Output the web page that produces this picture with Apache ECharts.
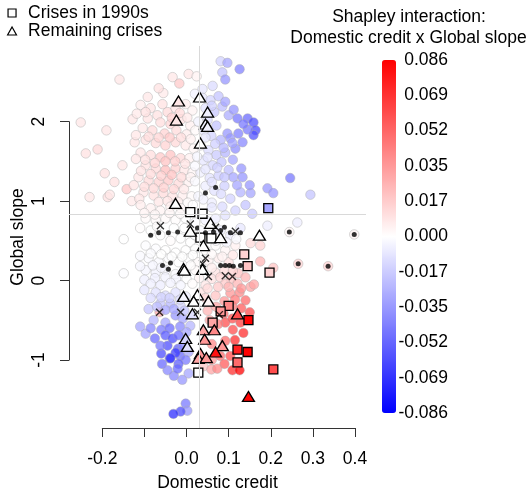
<!DOCTYPE html>
<html><head><meta charset="utf-8">
<script src="https://cdn.jsdelivr.net/npm/echarts@6/dist/echarts.min.js"></script>
<style>html,body{margin:0;padding:0;background:#fff}#c{width:530px;height:489px}</style>
</head><body><div id="c"></div>
<script>
// [Domestic credit, Global slope, Shapley interaction]
const circles = [
[-0.159,2.53,0.008],[-0.033,2.56,0.008],[-0.017,2.48,0.018],[0.005,2.60,0.008],[0.024,2.57,0.004],
[0.081,2.76,-0.015],[0.097,2.74,-0.03],[0.126,2.66,-0.042],[0.085,2.62,-0.02],[0.092,2.53,-0.035],
[0.062,2.45,-0.012],[0.038,2.41,-0.008],[-0.055,2.36,0.007],[-0.092,2.31,0.008],[-0.066,2.42,0.01],
[-0.128,2.03,0.008],[-0.19,1.89,0.008],[-0.251,1.99,0.008],
[-0.109,2.21,0.006],[-0.085,2.17,0.009],[-0.069,2.08,0.01],[-0.045,2.12,0.012],[-0.026,2.17,0.009],[-0.002,2.22,0.006],[0.014,2.14,0.004],
[-0.092,2.04,0.009],[-0.062,1.99,0.011],[-0.038,1.97,0.014],[-0.012,2.03,0.01],[0.009,1.95,0.005],
[-0.104,1.92,0.007],[-0.081,1.89,0.012],[-0.052,1.85,0.015],[-0.024,1.89,0.012],[0,1.84,0.006],[0.021,1.89,0.002],
[0.038,2.30,-0.008],[0.057,2.27,-0.014],[0.076,2.32,-0.02],[0.045,2.17,-0.01],[0.066,2.12,-0.018],[0.085,2.19,-0.022],[0.1,2.08,-0.028],
[0.121,2.04,-0.045],[0.145,2.04,-0.05],[0.159,1.99,-0.058],[0.164,1.89,-0.06],[0.159,1.83,-0.058],[0.145,1.90,-0.045],[0.123,1.85,-0.042],
[0.097,1.85,-0.035],[0.104,1.79,-0.035],[0.133,1.74,-0.04],[0.116,1.66,-0.038],[0.109,1.73,-0.03],
[0.05,2.02,-0.012],[0.071,1.95,-0.02],[0.04,1.89,-0.008],[0.059,1.82,-0.015],[0.081,1.77,-0.025],
[-0.239,1.60,0.01],[-0.211,1.65,0.012],[-0.194,1.35,0.01],[-0.23,1.05,0.008],[-0.187,1.05,0.01],[-0.182,1.08,0.008],[-0.142,1.15,0.018],[-0.123,1.74,0.008],[-0.152,1.45,0.008],[-0.171,1.24,0.01],
[-0.097,1.77,0.009],[-0.073,1.73,0.012],[-0.05,1.70,0.015],[-0.026,1.74,0.013],[-0.002,1.70,0.007],[0.017,1.66,0.003],
[-0.109,1.61,0.008],[-0.085,1.58,0.011],[-0.062,1.55,0.018],[-0.038,1.58,0.02],[-0.014,1.54,0.012],[0.007,1.54,0.005],
[-0.097,1.45,0.01],[-0.073,1.41,0.012],[-0.05,1.39,0.022],[-0.026,1.41,0.015],[-0.005,1.39,0.008],[0.014,1.36,0.003],
[-0.114,1.30,0.008],[-0.09,1.26,0.012],[-0.066,1.24,0.015],[-0.043,1.26,0.018],[-0.019,1.22,0.012],[0.005,1.24,0.005],
[-0.102,1.11,0.008],[-0.078,1.07,0.01],[-0.055,1.10,0.012],[-0.033,1.06,0.01],[-0.009,1.07,0.006],[0.012,1.06,0.002],
[0.033,1.70,-0.006],[0.052,1.64,-0.012],[0.071,1.58,-0.018],[0.092,1.61,-0.025],[0.04,1.51,-0.008],[0.062,1.45,-0.014],[0.083,1.49,-0.02],[0.13,1.41,-0.035],
[0.033,1.36,-0.005],[0.055,1.29,-0.01],[0.076,1.32,-0.016],[0.1,1.39,-0.022],[0.111,1.30,-0.03],[0.133,1.30,-0.035],[0.246,1.29,-0.045],
[0.045,1.19,-0.006],[0.066,1.13,-0.01],[0.09,1.19,-0.016],[0.128,1.11,-0.025],[0.152,1.10,-0.03],[0.192,1.16,-0.035],[0.206,1.10,-0.035],[0.294,1.08,-0.02],[0.028,1.06,-0.003],[0.104,1.03,-0.015],
[-0.118,2.10,0.007],[-0.097,2.12,0.01],[-0.057,2.22,0.01],[-0.035,2.05,0.016],[-0.016,2.11,0.012],[0.002,2.05,0.007],
[-0.12,1.83,0.008],[-0.09,1.81,0.011],[-0.066,1.80,0.014],[-0.04,1.80,0.018],[-0.013,1.80,0.011],[0.01,1.78,0.005],
[-0.12,1.53,0.008],[-0.098,1.52,0.01],[-0.075,1.48,0.014],[-0.05,1.50,0.02],[-0.027,1.50,0.016],[-0.003,1.47,0.009],
[-0.108,1.38,0.009],[-0.085,1.34,0.012],[-0.06,1.32,0.016],[-0.035,1.33,0.02],[-0.012,1.30,0.012],[0.01,1.30,0.004],
[-0.125,1.20,0.009],[-0.1,1.18,0.011],[-0.078,1.16,0.013],[-0.054,1.17,0.016],[-0.03,1.15,0.014],[-0.006,1.15,0.007],
[-0.13,1.00,0.007],[-0.112,1.03,0.008],[-0.066,0.99,0.008],[-0.045,1.00,0.009],[-0.02,0.99,0.006],[0.003,0.98,0.002],
[0.02,2.35,-0.004],[0.06,2.20,-0.016],[0.092,2.25,-0.03],[0.112,2.15,-0.035],[0.135,1.97,-0.045],[0.028,2.0,-0.004],[0.045,1.80,-0.008],[0.068,1.72,-0.016],[0.088,1.67,-0.024],[0.025,1.56,-0.003],[0.05,1.55,-0.01],[0.073,1.42,-0.016],[0.02,1.44,-0.002],[0.045,1.40,-0.008],[0.09,1.30,-0.02],[0.02,1.25,-0.002],[0.06,1.24,-0.01],[0.082,1.09,-0.012],[0.04,1.02,-0.004],[0.06,0.98,-0.006],[0.12,1.20,-0.03],[0.15,1.2,-0.035],[0.11,1.52,-0.03],
[-0.149,0.52,0.0],
[-0.109,0.95,0.006],[-0.085,0.91,0.005],[-0.062,0.88,0.004],[-0.038,0.93,0.005],[-0.014,0.91,0.003],
[-0.097,0.78,0.002],[-0.073,0.76,0.002],[-0.05,0.78,0.002],[-0.026,0.76,0.001],[-0.002,0.78,0.0],[0.021,0.73,-0.001],
[0.045,0.76,-0.004],[0.069,0.78,-0.006],[0.092,0.82,-0.01],[0.14,0.95,-0.02],[0.156,0.84,-0.018],[0.116,0.88,-0.015],[0.192,0.69,-0.006],[0.263,0.73,-0.006],
[-0.085,0.63,0.0],[-0.062,0.57,0.0],[-0.038,0.50,0.001],[-0.014,0.53,0.0],[0.009,0.48,0.0],
[0.033,0.63,-0.002],[0.057,0.57,-0.003],[0.081,0.63,-0.005],[0.104,0.57,-0.006],[0.128,0.66,-0.008],
[-0.097,0.44,-0.001],[-0.073,0.40,-0.001],[-0.05,0.38,0.0],[-0.026,0.35,0.0],[-0.002,0.38,0.0],[0.021,0.40,0.0],
[0.045,0.38,0.001],[0.069,0.44,0.001],[0.092,0.38,0.003],[0.116,0.44,0.005],[0.152,0.47,0.012],[0.175,0.44,0.015],
[0.244,0.61,0.003],[0.398,0.58,0.004],
[-0.1,0.85,0.004],[-0.075,0.83,0.003],[-0.04,0.85,0.003],[-0.015,0.84,0.002],[0.015,0.95,0.0],[0.06,0.92,-0.008],[0.085,0.93,-0.012],
[-0.11,0.66,0.001],[-0.07,0.68,0.001],[-0.03,0.66,0.0],[-0.005,0.66,0.0],[0.02,0.57,0.0],[0.07,0.50,-0.002],[0.095,0.48,-0.003],[0.118,0.52,-0.002],
[-0.149,0.09,-0.001],
[-0.09,0.28,-0.002],[-0.066,0.23,-0.002],[-0.043,0.28,-0.001],[-0.019,0.23,0.0],[0.005,0.28,0.0],[0.028,0.23,0.002],
[0.052,0.25,0.004],[0.076,0.28,0.006],[0.1,0.23,0.01],[0.175,0.24,0.025],[0.206,0.16,0.02],[0.265,0.21,0.015],[0.336,0.18,0.015],
[-0.097,0.13,-0.003],[-0.073,0.10,-0.004],[-0.05,0.13,-0.003],[-0.026,0.08,-0.002],[-0.002,0.10,0.0],[0.021,0.13,0.002],[0.069,0.10,0.01],[0.123,0.09,0.02],
[-0.11,0.31,-0.002],[-0.085,0.34,-0.001],[-0.06,0.33,0.0],[-0.035,0.30,0.0],[-0.01,0.30,0.0],[0.015,0.32,0.0],[0.06,0.33,0.002],[0.085,0.30,0.004],[0.11,0.32,0.008],
[-0.11,0.18,-0.003],[-0.08,0.19,-0.003],[-0.06,0.16,-0.003],[0.01,0.19,0.001],[0.06,0.16,0.006],[0.09,0.12,0.012],[0.11,0.12,0.015],
[-0.1,0.01,-0.005],[-0.075,0.03,-0.005],[-0.05,0.04,-0.004],[-0.025,0.02,-0.003],[0.0,0.02,0.0],[0.03,0.03,0.004],[0.06,0.02,0.01],[0.08,0.04,0.014],[0.105,0.02,0.02],[0.14,0.04,0.025],
[-0.085,-0.04,-0.005],[-0.062,-0.06,-0.006],[-0.038,-0.03,-0.004],[-0.014,-0.06,-0.003],[0.014,-0.04,0.001],[0.045,-0.06,0.008],[0.092,-0.04,0.018],[0.121,-0.04,0.025],[0.152,-0.08,0.03],
[-0.073,-0.15,-0.01],[-0.05,-0.19,-0.012],[-0.026,-0.15,-0.01],[-0.002,-0.20,-0.006],
[-0.062,-0.29,-0.02],[-0.038,-0.29,-0.025],[-0.014,-0.32,-0.015],[-0.078,-0.50,-0.025],[-0.064,-0.40,0.03],
[-0.026,-0.44,-0.035],[-0.009,-0.48,-0.03],[0.009,-0.57,-0.025],[-0.05,-0.53,-0.03],[-0.097,-0.67,-0.03],
[-0.1,-0.12,-0.008],[-0.085,-0.22,-0.012],[-0.06,-0.21,-0.015],[-0.04,-0.22,-0.016],[-0.015,-0.24,-0.012],
[-0.09,-0.36,-0.02],[-0.07,-0.33,-0.022],[-0.05,-0.37,-0.03],[-0.03,-0.36,-0.03],[-0.005,-0.38,-0.02],
[-0.11,-0.58,-0.03],[-0.085,-0.60,-0.04],[-0.06,-0.62,-0.045],[-0.04,-0.60,-0.05],[-0.015,-0.58,-0.04],[0.0,-0.65,-0.03],
[-0.075,-0.73,-0.05],[-0.045,-0.82,-0.06],[-0.02,-0.86,-0.055],[-0.06,-0.92,-0.06],[-0.04,-0.98,-0.055],[-0.015,-0.95,-0.05],[0.005,-0.90,-0.03],[-0.058,-1.05,-0.05],[-0.03,-1.20,-0.04],[-0.01,-1.25,-0.035],
[0.033,-0.15,0.01],[0.104,-0.16,0.035],[0.126,-0.15,0.04],[0.069,-0.19,0.02],[0.088,-0.42,0.05],[0.092,-0.53,0.06],
[0.109,-0.48,0.06],[0.128,-0.53,0.065],[0.109,-0.32,0.045],[0.05,-0.38,0.025],
[0.05,-0.1,0.012],[0.075,-0.08,0.018],[0.1,-0.08,0.025],[0.13,-0.10,0.035],[0.16,-0.05,0.03],
[0.045,-0.22,0.015],[0.09,-0.26,0.035],[0.115,-0.24,0.045],[0.14,-0.25,0.05],[0.07,-0.33,0.03],[0.13,-0.35,0.055],[0.15,-0.4,0.06],
[0.055,-0.5,0.03],[0.075,-0.55,0.045],[0.11,-0.62,0.06],[0.135,-0.66,0.07],[0.06,-0.8,0.04],[0.08,-0.95,0.05],[0.06,-1.0,0.035],[0.09,-1.05,0.055],[0.115,-0.75,0.07],[0.04,-1.08,0.02],
[-0.05,-0.69,-0.055],[-0.033,-0.73,-0.06],[-0.019,-0.69,-0.05],[-0.062,-0.82,-0.045],[-0.026,-0.91,-0.065],
[-0.002,-1.00,-0.045],[-0.019,-1.05,-0.055],[-0.045,-1.13,-0.04],[-0.021,-1.11,-0.05],[0.005,-1.17,-0.03],[-0.038,-0.98,-0.07],[-0.009,-0.82,-0.04],
[0.059,-1.12,0.03],[0.073,-1.11,0.04],[0.109,-1.13,0.07],[0.126,-1.13,0.085],[0.092,-0.76,0.05],[0.104,-0.95,0.06],
[-0.002,-1.55,-0.045],[0.002,-1.64,-0.035],[-0.014,-1.65,-0.06],[-0.031,-1.68,-0.07]
];
const crises1990s = [
[0.009,0.86,0.0],[0.038,0.84,0.0],[0.194,0.91,-0.03],[0.033,0.54,0.0],[0.059,0.53,0.0],
[0.137,0.33,0.015],[0.145,0.18,0.02],[0.197,0.10,0.015],[0.1,-0.32,0.04],[0.081,-0.39,0.035],
[0.062,-0.53,0.03],[0.147,-0.50,0.085],[0.121,-0.87,0.075],[0.145,-0.90,0.085],[0.121,-1.03,0.05],
[0.206,-1.12,0.06],[0.028,-1.16,0.0]
];
const remainingCrises = [
[-0.019,2.26,0.008],[0.031,2.31,0.0],[0.05,2.12,-0.005],[-0.024,2.02,0.008],[0.045,1.97,-0.005],[0.05,1.94,-0.005],[0.033,1.73,0.0],
[-0.026,0.97,0.0],[0.009,0.62,0.0],[0.057,0.72,0.0],[0.081,0.54,0.0],[0.04,0.44,0.0],[0.173,0.57,0.0],
[-0.007,0.15,0.0],[-0.005,0.13,0.0],[0.038,0.14,0.0],
[-0.007,-0.20,-0.003],[0.026,-0.18,0.0],[0.017,-0.26,0.0],[0.052,-0.26,0.003],[0.014,-0.42,-0.01],
[-0.002,-0.73,-0.015],[0.002,-0.83,-0.01],[0.04,-0.62,0.03],[0.066,-0.62,0.04],[0.043,-0.74,0.035],
[0.085,-0.82,0.035],[0.069,-0.90,0.08],[0.033,-0.92,0.035],[0.028,-0.98,0.03],[0.047,-0.97,0.035],
[0.121,-0.42,0.06],[0.147,-1.46,0.085]
];
const crosses = [
[-0.062,0.69],[0.009,0.71],[0.069,0.67],[0.116,0.62],[0.045,0.28],[0.038,0.21],
[0.052,0.05],[0.092,0.06],[0.109,0.05],[-0.064,-0.40],[-0.014,-0.40],[0.026,-0.40],[0.078,-0.43]
];
const dots = [
[0.045,1.10],[0.069,1.17],
[-0.085,0.57],[-0.066,0.60],[-0.043,0.60],[-0.021,0.61],[0.026,0.66],[0.045,0.60],[0.064,0.61],[0.081,0.63],[0.090,0.67],[0.104,0.60],[0.128,0.60],
[0.244,0.61],[0.398,0.58],
[-0.057,0.19],[-0.038,0.22],[-0.043,0.14],[0.081,0.19],[0.092,0.19],[0.102,0.19],[0.111,0.18],[0.128,0.19],
[0.265,0.21],[0.336,0.18]
];
const refX = 0.026, refY = 0.84;
const xTickLabels = ['-0.2','','0.0','0.1','0.2','0.3','0.4'];
const yTickLabels = ['-1','0','1','2'];
const cbTickLabels = ['-0.086','-0.069','-0.052','-0.035','-0.017','0.000','0.017','0.035','0.052','0.069','0.086'];

const FONT = "'Liberation Sans', Arial, Helvetica, sans-serif";
const FS = 17.5;
const crossPath = 'path://M0,1.2L1.2,0L5,3.8L8.8,0L10,1.2L6.2,5L10,8.8L8.8,10L5,6.2L1.2,10L0,8.8L3.8,5Z';
const chart = echarts.init(document.getElementById('c'), null, {renderer:'canvas'});
const hid = {show:true, axisLine:{show:false}, axisTick:{show:false}, axisLabel:{show:false}, splitLine:{show:false}};
chart.setOption({
  animation:false,
  textStyle:{fontFamily:FONT},
  grid:[
    {left:69, top:46, width:297, height:382, containLabel:false, outerBoundsMode:'none'},
    {left:102.3, top:46, width:252.7, height:382, containLabel:false, outerBoundsMode:'none'},
    {left:69, top:121.7, width:297, height:238.3, containLabel:false, outerBoundsMode:'none'},
    {left:382, top:60, width:14, height:353, containLabel:false, outerBoundsMode:'none'}
  ],
  xAxis:[
    Object.assign({gridIndex:0, type:'value', min:-0.2788, max:0.4259, name:'Domestic credit', nameLocation:'middle', nameGap:46, nameTextStyle:{fontSize:FS, color:'#000', fontFamily:FONT}}, hid),
    {gridIndex:1, type:'value', min:-0.2, max:0.4, interval:0.1, position:'bottom',
      axisLine:{lineStyle:{color:'#333', width:1}}, axisTick:{length:9, lineStyle:{color:'#333'}},
      axisLabel:{fontSize:FS, color:'#000', margin:22, fontFamily:FONT, formatter:(v,i)=>xTickLabels[i]}, splitLine:{show:false}},
    {gridIndex:2, type:'value', show:false},
    {gridIndex:3, type:'value', show:false}
  ],
  yAxis:[
    Object.assign({gridIndex:0, type:'value', min:-1.857, max:2.952, name:'Global slope', nameLocation:'middle', nameGap:42, nameRotate:90, nameTextStyle:{fontSize:FS, color:'#000', fontFamily:FONT}}, hid),
    {gridIndex:1, type:'value', show:false},
    {gridIndex:2, type:'value', min:-1, max:2, interval:1, position:'left',
      axisLine:{show:true, lineStyle:{color:'#333', width:1}}, axisTick:{show:true, length:9, lineStyle:{color:'#333'}},
      axisLabel:{fontSize:FS, color:'#000', rotate:90, margin:21, fontFamily:FONT, formatter:(v,i)=>yTickLabels[i]}, splitLine:{show:false}},
    {gridIndex:3, type:'value', min:0, max:10, interval:1, position:'right',
      axisLine:{show:false}, axisTick:{show:false}, splitLine:{show:false},
      axisLabel:{fontSize:FS, color:'#000', align:'right', margin:52, fontFamily:FONT, formatter:(v,i)=>cbTickLabels[i]}}
  ],
  visualMap:{
    type:'continuous', min:-0.086, max:0.086, dimension:2, seriesIndex:[1,2,3],
    inRange:{color:['#0000ff','#ffffff','#ff0000']},
    left:382, top:60, itemWidth:14, itemHeight:353, padding:0, calculable:false, hoverLink:false
  },
  legend:{
    orient:'vertical', left:2, top:-1, itemGap:0, itemWidth:22, itemHeight:8,
    textStyle:{fontSize:FS, color:'#000', fontFamily:FONT},
    data:[
      {name:'Crises in 1990s', icon:'path://M0,0L10,0L10,10L0,10Z', itemStyle:{color:'#fff', borderColor:'#000', borderWidth:1.2}},
      {name:'Remaining crises', icon:'path://M5,0L10,9L0,9Z', itemStyle:{color:'#fff', borderColor:'#000', borderWidth:1.2}}
    ]
  },
  graphic:[
    {type:'text', x:409, y:17, style:{text:'Shapley interaction:', textAlign:'center', textVerticalAlign:'middle', fontSize:FS, fontFamily:FONT, fill:'#000'}},
    {type:'text', x:408.5, y:38, style:{text:'Domestic credit x Global slope', textAlign:'center', textVerticalAlign:'middle', fontSize:FS, fontFamily:FONT, fill:'#000'}}
  ],
  series:[
    {type:'scatter', xAxisIndex:0, yAxisIndex:0, data:[], z:1, silent:true,
      markLine:{silent:true, symbol:'none', label:{show:false}, lineStyle:{color:'#d9d9d9', type:'solid', width:1},
        data:[{xAxis:refX},{yAxis:refY}]}},
    {name:'Observations', type:'scatter', xAxisIndex:0, yAxisIndex:0, data:circles, symbol:'circle', symbolSize:9.5, z:2,
      itemStyle:{opacity:0.75, borderColor:'rgba(170,170,170,0.6)', borderWidth:1}},
    {name:'Crises in 1990s', type:'scatter', xAxisIndex:0, yAxisIndex:0, data:crises1990s, symbol:'rect', symbolSize:9, z:3,
      itemStyle:{borderColor:'#000', borderWidth:1.3, opacity:1}},
    {name:'Remaining crises', type:'scatter', xAxisIndex:0, yAxisIndex:0, data:remainingCrises, symbol:'triangle', symbolSize:[12,10], z:3,
      itemStyle:{borderColor:'#000', borderWidth:1.3, opacity:1}},
    {name:'Crosses', type:'scatter', xAxisIndex:0, yAxisIndex:0, data:crosses, symbol:crossPath, symbolSize:8, z:4,
      itemStyle:{color:'#000'}},
    {name:'Dots', type:'scatter', xAxisIndex:0, yAxisIndex:0, data:dots, symbol:'circle', symbolSize:5, z:4,
      itemStyle:{color:'#000'}}
  ]
});
</script>
</body></html>
